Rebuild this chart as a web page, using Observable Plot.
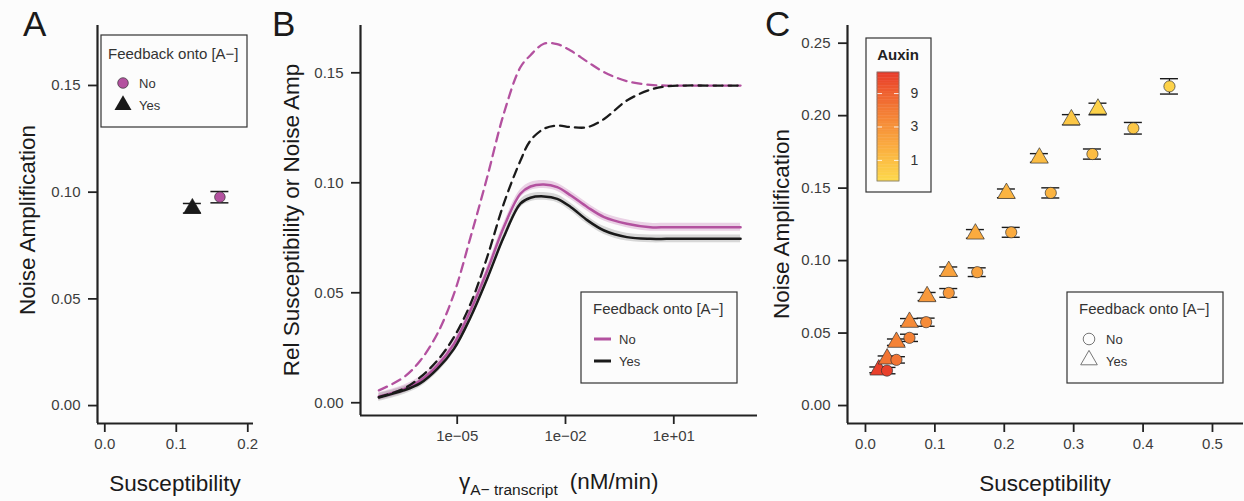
<!DOCTYPE html>
<html><head><meta charset="utf-8">
<script src="https://cdn.jsdelivr.net/npm/d3@7"></script>
<script src="https://cdn.jsdelivr.net/npm/@observablehq/plot@0.6"></script>
<style>
body{margin:0;background:#fcfcfc;}
#chart{position:relative;width:1244px;height:501px;background:#fcfcfc;overflow:hidden;font-family:"Liberation Sans",Arial,Helvetica,sans-serif;}
</style></head><body><div id="chart"></div>
<script>
// ---------- Panel A data ----------
const aFeedback = ["No", "Yes"];
const aSusceptibility = [0.161, 0.1225];
const aNoise = [0.0977, 0.0924];
const aNoiseLo = [0.0950, 0.0902];
const aNoiseHi = [0.1003, 0.0947];
const aXTicks = [0, 0.1, 0.2];
const aYTicks = [0, 0.05, 0.10, 0.15];

// ---------- Panel B data (gamma as log10 exponents) ----------
const bGammaExp = [-7.17, -6.48, -6.02, -5.55, -5.09, -4.63, -4.17, -3.71, -3.25, -2.97, -2.6, -2.23, -1.85, -1.39, -0.93, -0.3, 0.35, 0.8, 1.3, 2.0, 2.85];
const bNoiseNo  = [0.0056, 0.0116, 0.0192, 0.0314, 0.0495, 0.0753, 0.1025, 0.1314, 0.1525, 0.158, 0.1632, 0.1630, 0.160, 0.155, 0.1503, 0.1462, 0.1445, 0.1442, 0.1442, 0.1442, 0.1442];
const bNoiseYes = [0.0026, 0.0064, 0.0116, 0.0192, 0.0298, 0.045, 0.0662, 0.0905, 0.110, 0.1192, 0.1245, 0.126, 0.1253, 0.1253, 0.129, 0.1374, 0.1423, 0.1438, 0.1442, 0.1442, 0.1442];
const bSuscNo   = [0.0028, 0.0062, 0.0101, 0.017, 0.0268, 0.042, 0.060, 0.0798, 0.095, 0.0983, 0.0992, 0.098, 0.0942, 0.0889, 0.0844, 0.0814, 0.0798, 0.0798, 0.0798, 0.0798, 0.0798];
const bSuscYes  = [0.0024, 0.0056, 0.0089, 0.0154, 0.0245, 0.0389, 0.0564, 0.0753, 0.0905, 0.0932, 0.0938, 0.0927, 0.0889, 0.0829, 0.0783, 0.0753, 0.0745, 0.0745, 0.0745, 0.0745, 0.0745];
const bBandHalf = 0.0018;
const bXTicks = [1e-5, 1e-2, 1e1];
const bXTickLabels = ["1e\u221205", "1e\u221202", "1e+01"];
const bYTicks = [0, 0.05, 0.10, 0.15];

// ---------- Panel C data ----------
const cAuxin     = [16, 6, 4.3, 3.5, 2.5, 2, 1.6, 1.3, 1.05, 0.8, 0.6];
const cNoSusc    = [0.031, 0.0446, 0.0634, 0.0874, 0.120, 0.161, 0.210, 0.267, 0.327, 0.386, 0.438];
const cNoNoise   = [0.0241, 0.0315, 0.0467, 0.0575, 0.0777, 0.0920, 0.1195, 0.1467, 0.1735, 0.1913, 0.2202];
const cNoErr     = [0.0022, 0.0022, 0.0025, 0.0028, 0.003, 0.003, 0.0034, 0.0035, 0.0035, 0.004, 0.0053];
const cYesSusc   = [0.0192, 0.0312, 0.0446, 0.0634, 0.0888, 0.120, 0.1584, 0.2031, 0.2506, 0.2967, 0.335];
const cYesNoise  = [0.0246, 0.0322, 0.0437, 0.0575, 0.0752, 0.0926, 0.1184, 0.1464, 0.1708, 0.1972, 0.2046];
const cYesErr    = [0.002, 0.002, 0.0022, 0.0025, 0.0028, 0.003, 0.003, 0.003, 0.003, 0.0035, 0.004];
const cXTicks = [0, 0.1, 0.2, 0.3, 0.4, 0.5];
const cYTicks = [0, 0.05, 0.10, 0.15, 0.20, 0.25];
const auxinDomain = [0.5, 18];
const auxinTicks = [1, 3, 9];
const auxinColors = ["#fdd94b", "#e8382a"];

// ---------- styles ----------
const FONT = '"Liberation Sans", Arial, Helvetica, sans-serif';
const PINK = "#b3519f", BLACK = "#1a1a1a", AXIS = "#222", TICKTXT = "#3d3d3d";
const chart = document.getElementById("chart");
function place(node, left, top) {
  node.style.position = "absolute"; node.style.left = left + "px"; node.style.top = top + "px";
  chart.appendChild(node);
}
const baseStyle = {background: "transparent", fontFamily: FONT, fontSize: "15px", overflow: "visible"};
function axes(xd, yd, xOpts, yOpts) {
  return [
    Plot.axisX({tickSize: 9, tickPadding: 6, stroke: AXIS, strokeWidth: 1.8, fill: TICKTXT, fontSize: 15, label: null, ...xOpts}),
    Plot.axisY({tickSize: 9, tickPadding: 8, stroke: AXIS, strokeWidth: 1.8, fill: TICKTXT, fontSize: 15, label: null, ...yOpts}),
    Plot.ruleX([xd[0]], {stroke: AXIS, strokeWidth: 2.2}),
    Plot.ruleY([yd[0]], {stroke: AXIS, strokeWidth: 2.2})
  ];
}

// ---------- Panel A ----------
const aData = aFeedback.map((f, i) => ({f, x: aSusceptibility[i], y: aNoise[i], lo: aNoiseLo[i], hi: aNoiseHi[i]}));
const aXd = [-0.0102, 0.208], aYd = [-0.0084, 0.1781];
const plotA = Plot.plot({
  width: 260, height: 501, marginLeft: 97, marginRight: 7, marginTop: 25, marginBottom: 78,
  style: baseStyle,
  x: {domain: aXd}, y: {domain: aYd},
  marks: [
    ...axes(aXd, aYd, {ticks: aXTicks, tickFormat: d3.format(".1f")}, {ticks: aYTicks, tickFormat: d3.format(".2f")}),
    Plot.ruleX(aData, {x: "x", y1: "lo", y2: "hi", stroke: BLACK, strokeWidth: 1.3}),
    Plot.ruleY(aData, {y: "lo", x1: "x", x2: "x", insetLeft: -9, insetRight: -9, stroke: BLACK, strokeWidth: 1.5}),
    Plot.ruleY(aData, {y: "hi", x1: "x", x2: "x", insetLeft: -9, insetRight: -9, stroke: BLACK, strokeWidth: 1.5}),
    Plot.dot(aData.filter(d => d.f === "Yes"), {x: "x", y: "y", symbol: "triangle", r: 6.4, fill: BLACK, stroke: BLACK, strokeWidth: 0.6}),
    Plot.dot(aData.filter(d => d.f === "No"), {x: "x", y: "y", symbol: "circle", r: 5.3, fill: PINK, stroke: "#333", strokeWidth: 0.7})
  ]
});
place(plotA, 0, 0);

// ---------- Panel B ----------
function series(vals, fb) { return bGammaExp.map((e, i) => ({g: Math.pow(10, e), v: vals[i], fb})); }
const bNoNoise = series(bNoiseNo, "No"), bYesNoise = series(bNoiseYes, "Yes");
const bNoSusc = series(bSuscNo, "No"), bYesSusc = series(bSuscYes, "Yes");
const bXd = [Math.pow(10, -7.679), Math.pow(10, 3.319)], bYd = [-0.0058, 0.1715];
const band = (data, color, op) => Plot.areaY(data, {x: "g", y1: d => d.v - bBandHalf, y2: d => d.v + bBandHalf, fill: color, fillOpacity: op, curve: "catmull-rom"});
const plotB = Plot.plot({
  width: 500, height: 501, marginLeft: 100, marginRight: 3, marginTop: 25, marginBottom: 86,
  style: baseStyle,
  x: {type: "log", domain: bXd}, y: {domain: bYd},
  marks: [
    ...axes(bXd, bYd, {ticks: bXTicks, tickFormat: d => bXTickLabels[bXTicks.indexOf(d)]}, {ticks: bYTicks, tickFormat: d3.format(".2f")}),
    band(bNoSusc, PINK, 0.25),
    band(bYesSusc, "#555", 0.22),
    Plot.line(bNoSusc, {x: "g", y: "v", stroke: PINK, strokeWidth: 2.5, curve: "catmull-rom"}),
    Plot.line(bYesSusc, {x: "g", y: "v", stroke: BLACK, strokeWidth: 2.5, curve: "catmull-rom"}),
    Plot.line(bNoNoise, {x: "g", y: "v", stroke: PINK, strokeWidth: 2.3, strokeDasharray: "9,6", curve: "catmull-rom"}),
    Plot.line(bYesNoise, {x: "g", y: "v", stroke: BLACK, strokeWidth: 2.3, strokeDasharray: "9,6", curve: "catmull-rom"})
  ]
});
place(plotB, 260, 0);

// ---------- Panel C ----------
const cData = [
  ...cYesSusc.map((x, i) => ({fb: "Yes", x, y: cYesNoise[i], e: cYesErr[i], auxin: cAuxin[i]})),
  ...cNoSusc.map((x, i) => ({fb: "No", x, y: cNoNoise[i], e: cNoErr[i], auxin: cAuxin[i]}))
];
const cXd = [-0.0259, 0.5447], cYd = [-0.0124, 0.2622];
const colorScale = {type: "log", domain: auxinDomain, range: auxinColors, interpolate: "lab"};
const plotC = Plot.plot({
  width: 484, height: 501, marginLeft: 87, marginRight: 1, marginTop: 25, marginBottom: 78,
  style: baseStyle,
  x: {domain: cXd}, y: {domain: cYd}, color: colorScale,
  marks: [
    ...axes(cXd, cYd, {ticks: cXTicks, tickFormat: d3.format(".1f")}, {ticks: cYTicks, tickFormat: d3.format(".2f")}),
    Plot.ruleX(cData, {x: "x", y1: d => d.y - d.e, y2: d => d.y + d.e, stroke: BLACK, strokeWidth: 1.2}),
    Plot.ruleY(cData, {y: d => d.y - d.e, x1: "x", x2: "x", insetLeft: -9, insetRight: -9, stroke: BLACK, strokeWidth: 1.4}),
    Plot.ruleY(cData, {y: d => d.y + d.e, x1: "x", x2: "x", insetLeft: -9, insetRight: -9, stroke: BLACK, strokeWidth: 1.4}),
    Plot.dot(cData.filter(d => d.fb === "Yes"), {x: "x", y: "y", symbol: "triangle", r: 6.6, fill: "auxin", stroke: "#333", strokeWidth: 0.7}),
    Plot.dot(cData.filter(d => d.fb === "No"), {x: "x", y: "y", symbol: "circle", r: 5.6, fill: "auxin", stroke: "#333", strokeWidth: 0.7})
  ]
});
place(plotC, 760, 0);

// ---------- Auxin colour bar (y in log10 units) ----------
const lgLo = Math.log10(auxinDomain[0]), lgHi = Math.log10(auxinDomain[1]);
const nSteps = 40;
const ramp = d3.range(nSteps).map(i => {
  const a = lgLo + (lgHi - lgLo) * i / nSteps, b = lgLo + (lgHi - lgLo) * (i + 1) / nSteps;
  return {y1: a, y2: b, c: Math.pow(10, (a + b) / 2)};
});
const plotBar = Plot.plot({
  width: 62, height: 125, marginLeft: 0, marginRight: 40, marginTop: 8, marginBottom: 8,
  style: {...baseStyle, fontSize: "14px"},
  x: {domain: [0, 1], axis: null}, y: {domain: [lgLo, lgHi], axis: null}, color: colorScale,
  marks: [
    Plot.rect(ramp, {x1: 0, x2: 1, y1: "y1", y2: "y2", fill: "c", stroke: "c", strokeWidth: 0.4}),
    Plot.ruleY(auxinTicks, {y: d => Math.log10(d), x1: 0, x2: 1, stroke: "white", strokeOpacity: 0.85, strokeWidth: 1, strokeDasharray: "5,12,5"}),
    Plot.rect([0], {x1: 0, x2: 1, y1: lgLo, y2: lgHi, fill: "none", stroke: "#777", strokeWidth: 0.8}),
    Plot.text(auxinTicks, {x: 1, y: d => Math.log10(d), text: d => String(d), dx: 11, textAnchor: "start", fill: "#333", fontSize: 14})
  ]
});
place(plotBar, 877, 64);

// ---------- Overlay: panel letters, axis titles, legends ----------
const ov = d3.create("svg").attr("width", 1244).attr("height", 501)
  .style("position", "absolute").style("left", "0px").style("top", "0px")
  .style("font-family", FONT).style("overflow", "visible");
const txt = (x, y, s, size, opts = {}) => ov.append("text").attr("x", x).attr("y", y).attr("font-size", size)
  .attr("fill", opts.fill || "#1a1a1a").attr("text-anchor", opts.anchor || "start").attr("font-weight", opts.weight || null).text(s);

// panel letters
txt(23, 36, "A", 35); txt(272, 36, "B", 35); txt(765, 36, "C", 35);
// x titles
txt(175, 491, "Susceptibility", 22.5, {anchor: "middle"});
txt(1045, 491, "Susceptibility", 22.5, {anchor: "middle"});
const bt = ov.append("text").attr("x", 459).attr("y", 489).attr("font-size", 22.5).attr("fill", "#1a1a1a");
bt.append("tspan").text("\u03b3");
bt.append("tspan").attr("font-size", 15.5).attr("dy", 6).text("A\u2212 transcript");
bt.append("tspan").attr("dy", -6).attr("dx", 12).text("(nM/min)");
// y titles
const ytitle = (x, y, s) => ov.append("text").attr("transform", `translate(${x},${y}) rotate(-90)`)
  .attr("font-size", 22.5).attr("fill", "#1a1a1a").attr("text-anchor", "middle").text(s);
ytitle(35, 220, "Noise Amplification");
ytitle(299, 220, "Rel Susceptibility or Noise Amp");
ytitle(789, 224, "Noise Amplification");

// legend box helper
const box = (x, y, w, h) => ov.append("rect").attr("x", x).attr("y", y).attr("width", w).attr("height", h)
  .attr("fill", "none").attr("stroke", "#333").attr("stroke-width", 1.2);
const tri = (size) => d3.symbol(d3.symbolTriangle, size)();

// Legend A
box(101, 35, 146, 92);
txt(108, 58.5, "Feedback onto [A\u2212]", 15, {fill: "#333"});
ov.append("circle").attr("cx", 123).attr("cy", 83).attr("r", 5.3).attr("fill", PINK).attr("stroke", "#333").attr("stroke-width", 0.7);
ov.append("path").attr("d", tri(125)).attr("transform", "translate(123,105)").attr("fill", BLACK);
txt(139, 87.5, "No", 13, {fill: "#333"});
txt(139, 109.5, "Yes", 13, {fill: "#333"});

// Legend B
box(581, 292, 156, 91);
txt(593, 313.5, "Feedback onto [A\u2212]", 15, {fill: "#333"});
ov.append("line").attr("x1", 594).attr("x2", 611).attr("y1", 339).attr("y2", 339).attr("stroke", PINK).attr("stroke-width", 3);
ov.append("line").attr("x1", 594).attr("x2", 611).attr("y1", 361).attr("y2", 361).attr("stroke", BLACK).attr("stroke-width", 3);
txt(619, 343.5, "No", 13, {fill: "#333"});
txt(619, 365.5, "Yes", 13, {fill: "#333"});

// Legend C (shape)
box(1067, 292, 156, 91);
txt(1079, 313.5, "Feedback onto [A\u2212]", 15, {fill: "#333"});
ov.append("circle").attr("cx", 1089).attr("cy", 339).attr("r", 5.8).attr("fill", "none").attr("stroke", "#777").attr("stroke-width", 1);
ov.append("path").attr("d", tri(120)).attr("transform", "translate(1089,360)").attr("fill", "none").attr("stroke", "#777").attr("stroke-width", 1);
txt(1106, 343.5, "No", 13, {fill: "#333"});
txt(1106, 365.5, "Yes", 13, {fill: "#333"});

// Legend C (auxin)
box(866, 38, 65, 154);
txt(898, 60, "Auxin", 15, {anchor: "middle", weight: "bold", fill: "#222"});

chart.appendChild(ov.node());
</script></body></html>
